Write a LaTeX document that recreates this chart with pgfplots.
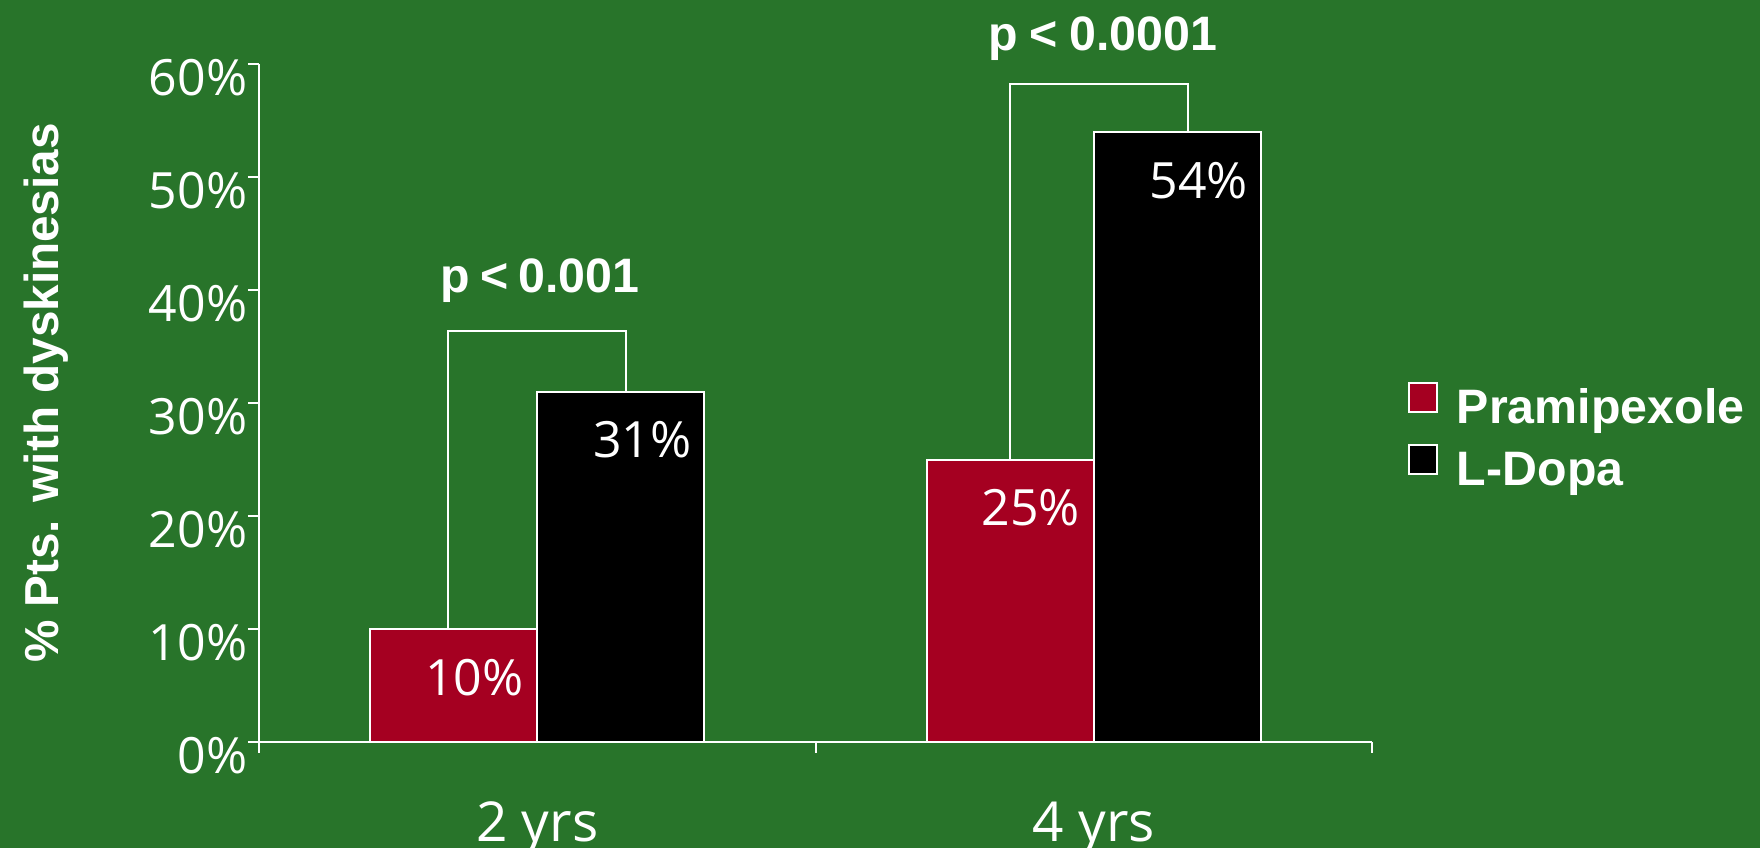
\documentclass[border=0pt]{standalone}
\usepackage{fontspec}
\setmainfont{Open Sans}
\newfontfamily\lsans{Liberation Sans}
\usepackage{pgfplots}
\pgfplotsset{compat=1.18}
\definecolor{bggreen}{RGB}{40,116,42}
\definecolor{pramired}{RGB}{165,0,33}

\pgfplotsset{
  sqlegend/.style={legend image code/.code={
      \path[draw=none, fill=none] (0pt,-0.95pt) rectangle (8.4pt,12.6pt);
      \draw[##1, draw=white, line width=0.6pt] (0pt,-0.95pt) rectangle (8.4pt,7.75pt);}},
  barlabel/.style={
    nodes near coords={\pgfmathprintnumber{\pgfplotspointmeta}\%},
    every node near coord/.append style={anchor=north east, inner sep=0pt,
      xshift=#1, yshift=-8.7pt, text=white,
      font=\fontsize{15pt}{18pt}\selectfont}},
}

\begin{document}
\begin{tikzpicture}
\fill[bggreen] (0,0) rectangle (528pt,254.4pt);
\begin{axis}[
  at={(77.7pt,31.8pt)}, anchor=south west,
  scale only axis, width=333.9pt, height=203.4pt,
  xmin=0, xmax=2, ymin=0, ymax=60,
  clip=false,
  axis x line=bottom, axis y line=left,
  axis line style={-, white, line width=0.6pt},
  tick align=outside, major tick length=3.3pt,
  tick style={white, line width=0.6pt},
  /pgf/number format/assume math mode=true,
  xtick={0,1,2}, xticklabels={},
  extra x ticks={0.5,1.5}, extra x tick labels={2 yrs,4 yrs},
  extra x tick style={tick style={draw=none}},
  xticklabel style={font=\fontsize{16.5pt}{20pt}\selectfont, text=white,
    anchor=base, inner sep=0pt, yshift=-26.5pt},
  ytick={0,10,20,30,40,50,60},
  yticklabels={0\%,10\%,20\%,30\%,40\%,50\%,60\%},
  yticklabel style={font=\fontsize{15pt}{18pt}\selectfont, text=white,
    anchor=east, inner sep=0pt, xshift=0pt, yshift=-4.2pt},
  ylabel={\% Pts. with dyskinesias},
  ylabel style={at={(axis description cs:-0.1914,0.5147)}, anchor=center,
    rotate=0, font=\lsans\bfseries\fontsize{14.3pt}{17pt}\selectfont, text=white},
  legend style={at={(axis description cs:1.0323,0.5533)}, anchor=north west,
    draw=none, fill=none, inner sep=0pt, outer sep=0pt,
    column sep=5.7pt, row sep=0.1pt, text=white,
    font=\lsans\bfseries\fontsize{14.5pt}{17pt}\selectfont,
    nodes={inner sep=0pt}},
  legend cell align=left,
]
% significance brackets
\addplot[white, line width=0.6pt, forget plot] coordinates {(0.34,10) (0.34,36.4) (0.66,36.4) (0.66,31)};
\addplot[white, line width=0.6pt, forget plot] coordinates {(1.35,25) (1.35,58.2) (1.67,58.2) (1.67,54)};

\addplot[ybar, bar width=0.3, bar shift=-0.15, fill=pramired, draw=white,
  line width=0.6pt, sqlegend, barlabel=-3.8pt] coordinates {(0.5,10) (1.5,25)};
\addlegendentry{Pramipexole}
\addplot[ybar, bar width=0.3, bar shift=0.15, fill=black, draw=white,
  line width=0.6pt, sqlegend, barlabel=46.6pt] coordinates {(0.5,31) (1.5,54)};
\addlegendentry{L-Dopa}

\node[anchor=base, text=white, font=\lsans\bfseries\fontsize{14.5pt}{17pt}\selectfont]
  at (axis cs:0.505,39.8) {p\hspace{3pt}<\hspace{3pt}0.001};
\node[anchor=base, text=white, font=\lsans\bfseries\fontsize{14.5pt}{17pt}\selectfont]
  at (axis cs:1.516,61.2) {p\hspace{3.5pt}<\hspace{3.5pt}0.0001};
\end{axis}
\pgfresetboundingbox
\useasboundingbox (0,0) rectangle (528pt,254.4pt);
\end{tikzpicture}
\end{document}
